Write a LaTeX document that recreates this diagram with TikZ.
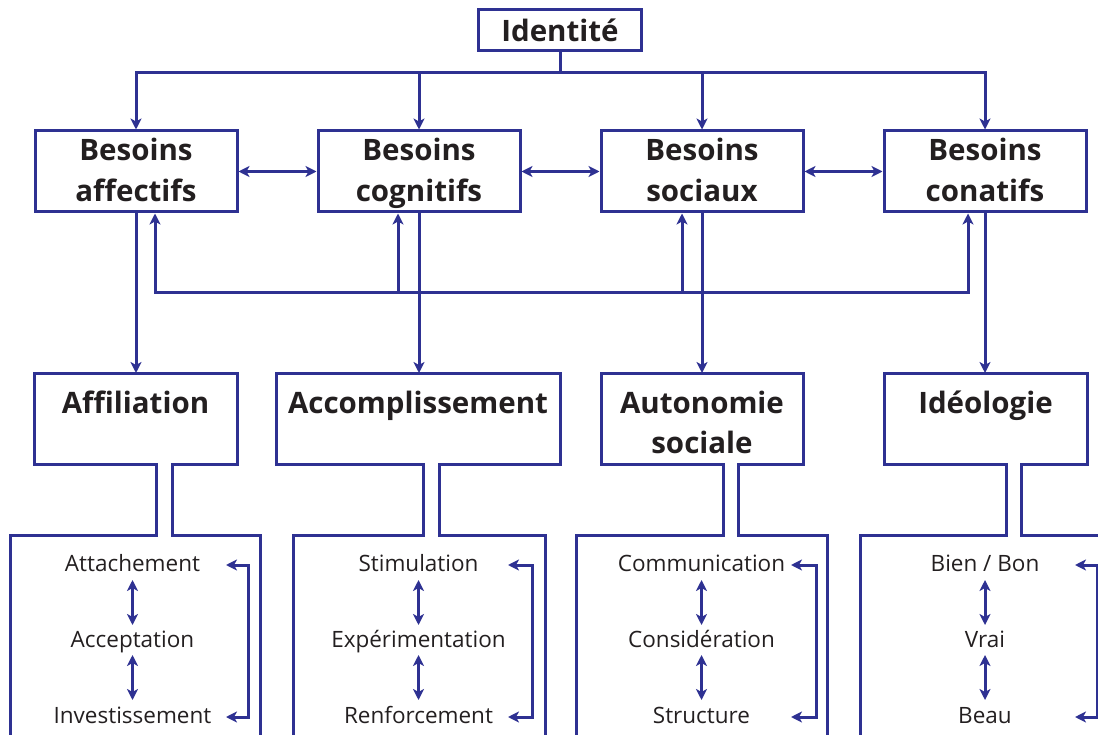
\documentclass[tikz,border=0pt]{standalone}
\usepackage{fontspec}
\setmainfont{Open Sans}
\usetikzlibrary{arrows.meta}
\definecolor{navy}{HTML}{2E3192}
\definecolor{ink}{HTML}{231F20}
\newcommand\grpbox[6]{%
  \draw[grp] (#5,760) -- (#5,535) -- (#3,535) -- (#3,464) -- (#1,464) -- (#1,373)
    -- (#2,373) -- (#2,464) -- (#4,464) -- (#4,535) -- (#6,535) -- (#6,760);}
\newcommand\bienbon{Bien / Bon}
\newcommand\ph{\vphantom{Bg}}
\newcommand\pht{\vphantom{\rule{0pt}{26pt}Bg}}
\begin{document}
\begin{tikzpicture}[x=1pt,y=-1pt,
  link/.style={draw=navy,line width=3pt},
  arr/.style={link,-{Stealth[length=11pt,width=11pt,inset=3pt]}},
  dbl/.style={link,{Stealth[length=11pt,width=11pt,inset=3pt]}-{Stealth[length=11pt,width=11pt,inset=3pt]}},
  grp/.style={draw=navy,line width=3pt,line join=miter},
  need/.style={draw=navy,line width=3pt,minimum width=202pt,minimum height=81pt,
    font=\fontsize{29.5}{41}\selectfont\bfseries,align=center,inner sep=0pt,text=ink},
  head/.style={anchor=base,font=\fontsize{29.5}{40}\selectfont\bfseries,align=center,inner sep=0pt,text=ink},
  item/.style={anchor=base,font=\fontsize{22.5}{26}\selectfont,inner sep=0pt,text=ink}]
\clip (0,0) rectangle (1098,735);
\useasboundingbox (0,0) rectangle (1098,735);

% top
\node[need,minimum width=163pt,minimum height=41pt] (id) at (560,30) {Identité};
\node[need] (baff) at (136,171.5) {\pht Besoins\\\ph affectifs};
\node[need] (bcog) at (419,171.5) {\pht Besoins\\\ph cognitifs};
\node[need] (bsoc) at (702,171.5) {\pht Besoins\\\ph sociaux};
\node[need] (bcon) at (985,171.5) {\pht Besoins\\\ph conatifs};

\coordinate (hub) at (560,73);
\draw[link] (id.south) -- (hub);
\draw[arr] (hub) -| (baff.north);
\draw[arr] (hub) -| (bcog.north);
\draw[arr] (hub) -| (bsoc.north);
\draw[arr] (hub) -| (bcon.north);

\draw[dbl] (baff.east) -- (bcog.west);
\draw[dbl] (bcog.east) -- (bsoc.west);
\draw[dbl] (bsoc.east) -- (bcon.west);

% feedback loop
\coordinate (f1) at (155,293);
\coordinate (f2) at (398,293);
\coordinate (f3) at (682,293);
\coordinate (f4) at (968,293);
\draw[dbl] (baff.south -| f1) -- (f1) -- (f4) -- (bcon.south -| f4);
\draw[arr] (f2) -- (bcog.south -| f2);
\draw[arr] (f3) -- (bsoc.south -| f3);

% second row outlines
\grpbox{34}{237}{156}{172}{10}{260}
\grpbox{276}{560}{423}{439}{293}{545}
\grpbox{601}{803}{723}{738}{576}{827}
\grpbox{884}{1087}{1006}{1021}{860}{1130}

\node[head] (aff) at (135.5,413) {Affiliation};
\node[head] (acc) at (418,413) {Accomplissement};
\node[head] (aut) at (702,413) {Autonomie};
\node[head] (auts) at (702,453) {sociale};
\node[head] (ideo) at (985.5,413) {Idéologie};

\coordinate (rowtop) at (0,373);
\draw[arr] (baff.south) -- (baff.south |- rowtop);
\draw[arr] (bcog.south) -- (bcog.south |- rowtop);
\draw[arr] (bsoc.south) -- (bsoc.south |- rowtop);
\draw[arr] (bcon.south) -- (bcon.south |- rowtop);

% items
\foreach \c/\x/\a/\b/\d/\tx/\bx in {1/132.5/Attachement/Acceptation/Investissement/226/248,
  2/418.5/Stimulation/Expérimentation/Renforcement/508/532,
  3/701.5/Communication/Considération/Structure/791/816,
  4/985/\bienbon/Vrai/Beau/1075/1097}{
  \node[item] (i\c a) at (\x,571) {\a};
  \node[item] (i\c b) at (\x,647) {\b};
  \node[item] (i\c c) at (\x,723) {\d};
  \draw[dbl] ([yshift=-9pt]i\c a.base) -- ([yshift=22pt]i\c b.base);
  \draw[dbl] ([yshift=-8pt]i\c b.base) -- ([yshift=23pt]i\c c.base);
  \coordinate (t\c a) at (\tx,565);
  \coordinate (t\c c) at (\tx,717);
  \draw[dbl] (t\c a) -- (\bx,565) -- (\bx,717) -- (t\c c);
}
\end{tikzpicture}
\end{document}
